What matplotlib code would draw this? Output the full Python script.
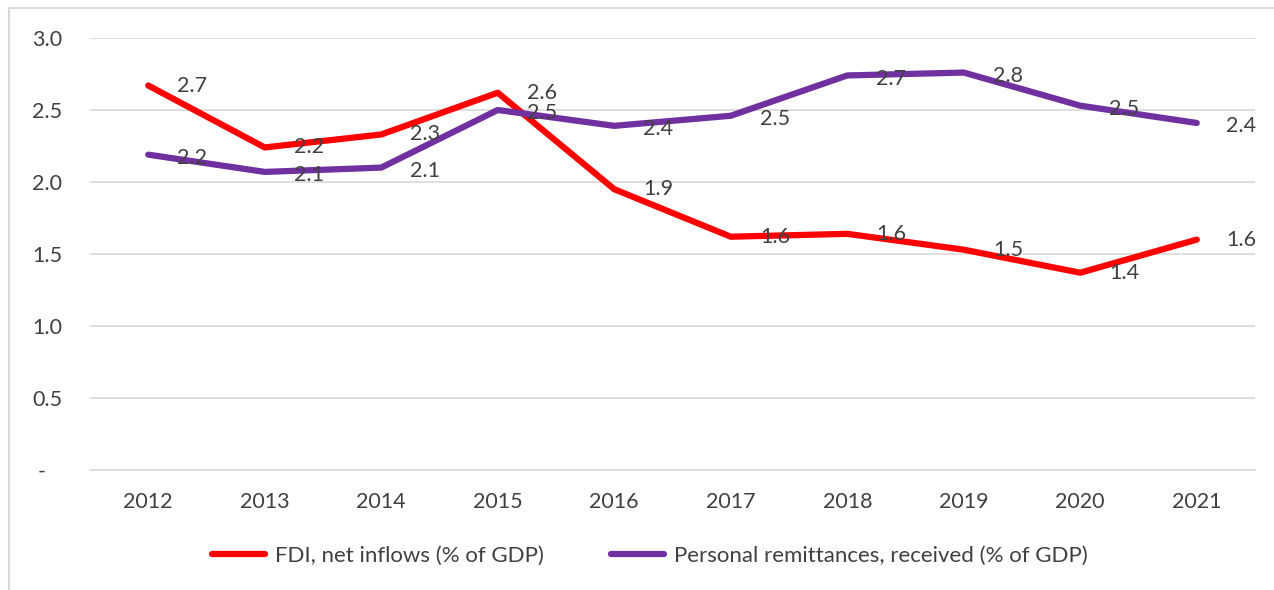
import matplotlib
matplotlib.use("Agg")
import matplotlib.pyplot as plt
from matplotlib.lines import Line2D

plt.rcParams["font.family"] = ["Lato", "DejaVu Sans"]

years = ["2012", "2013", "2014", "2015", "2016", "2017", "2018", "2019", "2020", "2021"]
fdi = [2.67, 2.24, 2.33, 2.62, 1.95, 1.62, 1.64, 1.53, 1.37, 1.60]
remit = [2.19, 2.07, 2.10, 2.50, 2.39, 2.46, 2.74, 2.76, 2.53, 2.41]
yticks = [0.0, 0.5, 1.0, 1.5, 2.0, 2.5, 3.0]
ytick_labels = ["-   ", "0.5", "1.0", "1.5", "2.0", "2.5", "3.0"]

RED = "#FF0000"
PURPLE = "#7030A0"
TXT = "#404040"
GRID = "#D9D9D9"

fig = plt.figure(figsize=(12.74, 5.9), dpi=100)
ax = fig.add_axes([90 / 1274, 1 - 470 / 590, (1255 - 90) / 1274, (470 - 38) / 590])

x = list(range(len(years)))
ax.plot(x, fdi, color=RED, lw=4.5, solid_capstyle="round", solid_joinstyle="round",
        label="FDI, net inflows (% of GDP)", zorder=3)
ax.plot(x, remit, color=PURPLE, lw=4.5, solid_capstyle="round", solid_joinstyle="round",
        label="Personal remittances, received (% of GDP)", zorder=3)

# data labels to the right of each point
for series, dy in ((fdi, 0), (remit, -2.5)):
    for xi, v in zip(x, series):
        ax.annotate(f"{v:.1f}", (xi, v), xytext=(21, dy), textcoords="offset points",
                    ha="left", va="center", fontsize=15.5, color=TXT, zorder=4)

ax.set_xlim(-0.5, len(years) - 0.5)
ax.set_ylim(0, 3.0)
ax.set_xticks(x)
ax.set_xticklabels(years)
ax.set_yticks(yticks)
ax.set_yticklabels(ytick_labels)
ax.tick_params(axis="both", length=0, labelsize=15.5, colors=TXT)
ax.tick_params(axis="y", pad=20)
ax.tick_params(axis="x", pad=16)
ax.grid(axis="y", color=GRID, lw=1.2)
ax.set_axisbelow(True)
for s in ("top", "right", "left"):
    ax.spines[s].set_visible(False)
ax.spines["bottom"].set_color(GRID)
ax.spines["bottom"].set_linewidth(1.2)

leg = fig.legend(loc="center", bbox_to_anchor=(650 / 1274, 1 - 556 / 590), ncol=2, frameon=False,
                 fontsize=16, handlelength=2.4, handletextpad=0.45, columnspacing=3.0)
for t in leg.get_texts():
    t.set_color(TXT)
for h in leg.legend_handles:
    h.set_solid_capstyle("round")

# chart area border (left and top edges)
fig.add_artist(Line2D([9 / 1274, 9 / 1274], [0, 1 - 8 / 590], transform=fig.transFigure,
                      color=GRID, lw=1.5))
fig.add_artist(Line2D([9 / 1274, 1], [1 - 8 / 590, 1 - 8 / 590], transform=fig.transFigure,
                      color=GRID, lw=1.5))

fig.savefig("out.png", dpi=100, facecolor="white")
